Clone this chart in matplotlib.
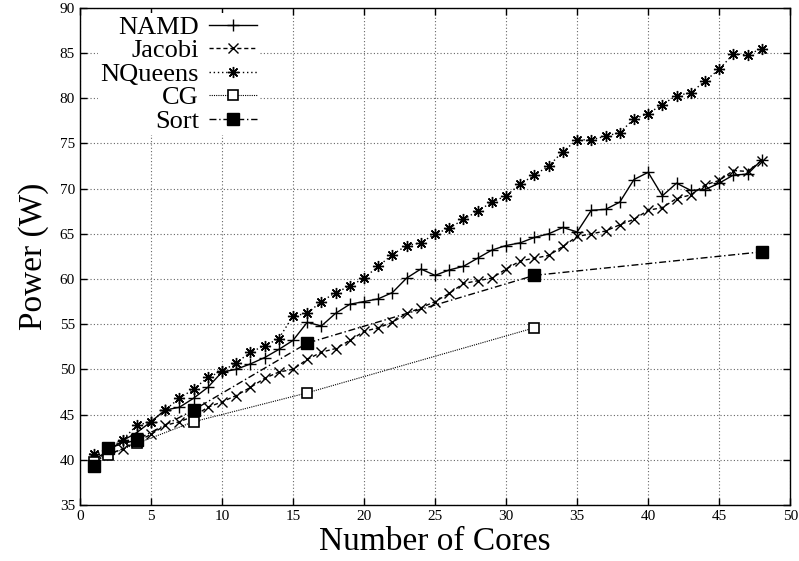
import matplotlib
matplotlib.use("Agg")
import matplotlib.pyplot as plt
from matplotlib.ticker import MultipleLocator

plt.rcParams['font.family'] = ['Liberation Serif', 'DejaVu Serif']

cores = list(range(1, 49))

namd = [40.0, 41.0, 42.1, 43.0, 44.2, 45.5, 45.8, 46.8, 48.0, 49.7,
        50.0, 50.6, 51.3, 52.2, 53.2, 55.2, 54.8, 56.2, 57.2, 57.5,
        57.8, 58.5, 60.1, 61.1, 60.4, 61.0, 61.4, 62.3, 63.2, 63.7,
        64.0, 64.6, 65.0, 65.7, 65.2, 67.6, 67.7, 68.5, 71.0, 71.8,
        69.2, 70.6, 69.8, 69.9, 70.6, 71.5, 71.6, 73.2]

jacobi = [40.2, 40.6, 41.2, 42.0, 42.8, 43.8, 44.2, 44.8, 45.8, 46.4,
          47.1, 48.0, 49.0, 49.7, 50.0, 51.1, 51.9, 52.3, 53.2, 54.2,
          54.6, 55.2, 56.2, 56.8, 57.5, 58.4, 59.5, 59.8, 60.1, 61.1,
          62.0, 62.3, 62.6, 63.6, 64.7, 65.0, 65.3, 66.0, 66.6, 67.6,
          67.9, 68.9, 69.3, 70.4, 70.9, 72.0, 71.9, 73.1]

nqueens = [40.6, 41.2, 42.2, 43.8, 44.2, 45.5, 46.8, 47.8, 49.1, 49.8,
           50.7, 51.9, 52.6, 53.4, 55.9, 56.2, 57.5, 58.5, 59.2, 60.1,
           61.4, 62.7, 63.7, 64.0, 65.0, 65.6, 66.6, 67.5, 68.5, 69.2,
           70.5, 71.5, 72.5, 74.1, 75.4, 75.4, 75.8, 76.2, 77.7, 78.3,
           79.3, 80.3, 80.6, 81.9, 83.2, 84.9, 84.8, 85.5]

cg_cores = [1, 2, 4, 8, 16, 32]
cg = [39.8, 40.5, 41.8, 44.2, 47.4, 54.6]

sort_cores = [1, 2, 4, 8, 16, 32, 48]
sort_vals = [39.3, 41.3, 42.2, 45.5, 52.9, 60.4, 63.0]

fig = plt.figure(figsize=(7.99, 5.61), dpi=100)
ax = fig.add_axes([0.100, 0.100, 0.889, 0.886])

lw = 1.0
ax.plot(cores, namd, color='black', lw=lw, linestyle='-', marker='+',
        markersize=9, markeredgewidth=1.0, label='NAMD')
ax.plot(cores, jacobi, color='black', lw=lw, linestyle=(0, (3, 2)), marker='x',
        markersize=7, markeredgewidth=1.0, label='Jacobi')
ax.plot(cores, nqueens, color='black', lw=lw, linestyle=(0, (1, 2)), marker=(8, 2, 0),
        markersize=8, markeredgewidth=1.0, label='NQueens')
ax.plot(cg_cores, cg, color='black', lw=0.8, linestyle=(0, (1, 1)), marker='s',
        markersize=7, markeredgewidth=1.2, markerfacecolor='white', label='CG')
ax.plot(sort_cores, sort_vals, color='black', lw=lw, linestyle=(0, (5, 2, 1, 2)), marker='s',
        markersize=8, markeredgewidth=1.0, markerfacecolor='black', label='Sort')

ax.set_xlim(0, 50)
ax.set_ylim(35, 90)
ax.xaxis.set_major_locator(MultipleLocator(5))
ax.yaxis.set_major_locator(MultipleLocator(5))
ax.tick_params(direction='in', top=True, right=True, length=5, width=1, labelsize=11)
ax.grid(True, color='#666666', linestyle=(0, (1, 2)), linewidth=0.8)
ax.set_axisbelow(True)
for s in ax.spines.values():
    s.set_linewidth(1.0)

ax.set_xlabel('Number of Cores', fontsize=24, labelpad=3)
ax.set_ylabel('Power (W)', fontsize=24, labelpad=8)

leg = ax.legend(loc='upper left', markerfirst=False, frameon=True, fontsize=19,
                labelspacing=0.0, handlelength=1.8, handletextpad=0.4,
                borderaxespad=0.0, borderpad=0.1,
                bbox_to_anchor=(0.025, 0.99))
leg.get_frame().set_edgecolor('none')
leg.get_frame().set_facecolor('white')
leg.get_frame().set_alpha(1.0)
for col in leg._legend_handle_box.get_children():
    col.align = 'right'

fig.savefig('out.png', dpi=100)
